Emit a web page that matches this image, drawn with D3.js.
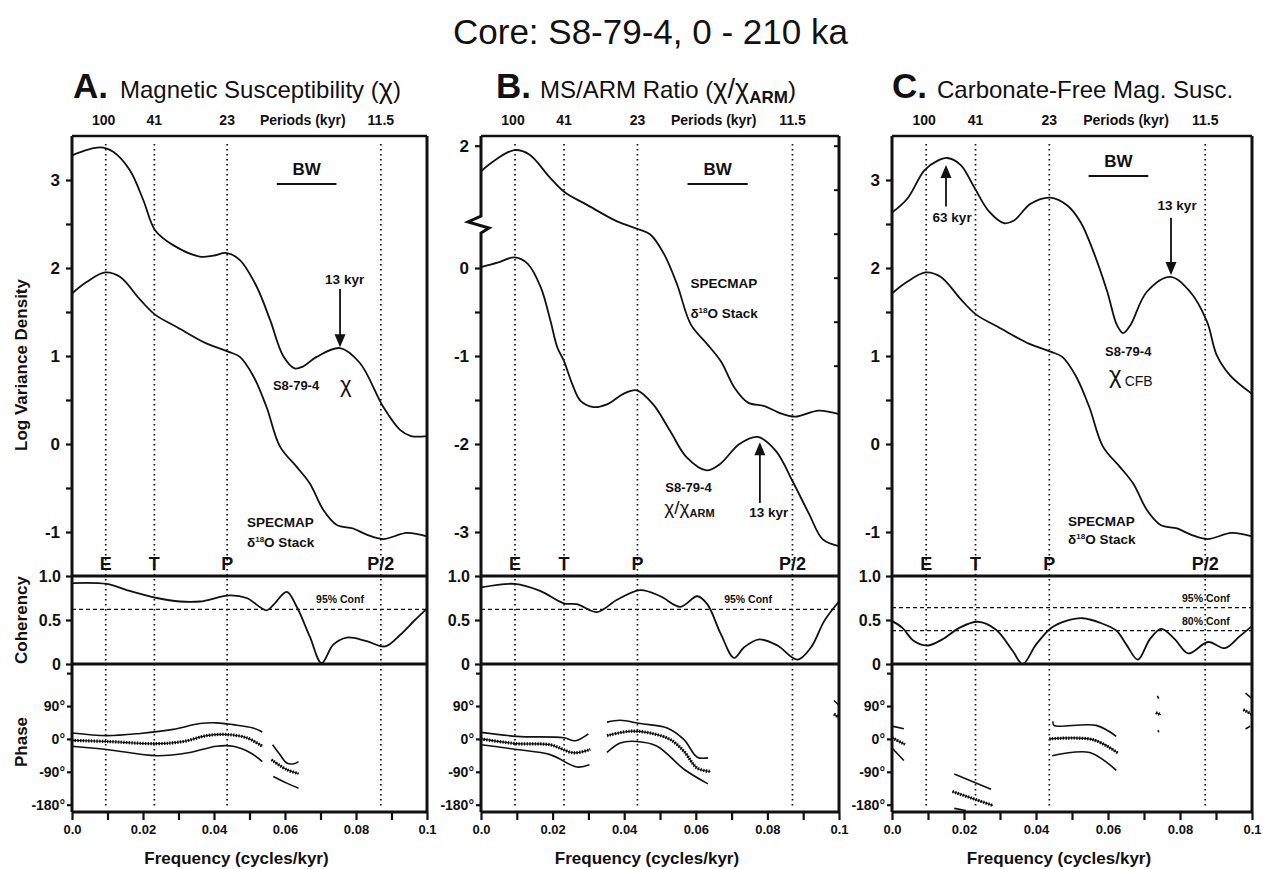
<!DOCTYPE html>
<html>
<head>
<meta charset="utf-8">
<script src="https://cdn.jsdelivr.net/npm/d3@7"></script>
<style>
body { margin: 0; background: #fff; }
text { font-family: "Liberation Sans", Arial, Helvetica, sans-serif; fill: #111; }
</style>
</head>
<body>
<svg id="chart" width="1263" height="869"></svg>
<script>
// ---------- data ----------
var freqTicks = [0, 0.01, 0.02, 0.03, 0.04, 0.05, 0.06, 0.07, 0.08, 0.09, 0.1];
var freqLabels = ["0.0", "", "0.02", "", "0.04", "", "0.06", "", "0.08", "", "0.1"];
var orbitalFreqs = [0.0095, 0.0232, 0.0437, 0.087];
var orbitalNames = ["E", "T", "P", "P/2"];
var periodLabels = ["100", "41", "23", "11.5"];

// SPECMAP d18O stack spectrum (log variance density)
var specmap = [[0,1.71],[0.0041,1.84],[0.0093,1.95],[0.0135,1.90],[0.0192,1.64],[0.0234,1.47],[0.0295,1.33],
  [0.038,1.14],[0.044,1.05],[0.0473,0.99],[0.0511,0.77],[0.0548,0.42],[0.0586,-0.03],[0.0633,-0.26],
  [0.067,-0.45],[0.0708,-0.75],[0.0746,-0.92],[0.0792,-0.96],[0.083,-1.03],[0.0877,-1.08],[0.0943,-1.01],[0.1,-1.05]];

// A: magnetic susceptibility
var specA = [[0,3.28],[0.0079,3.37],[0.0116,3.32],[0.0163,3.11],[0.0201,2.77],[0.0234,2.43],[0.0285,2.26],
  [0.036,2.13],[0.0398,2.14],[0.0436,2.17],[0.0473,2.09],[0.052,1.79],[0.0558,1.41],[0.0595,1.0],
  [0.0627,0.86],[0.065,0.88],[0.0689,0.99],[0.0755,1.09],[0.0811,0.92],[0.0877,0.42],[0.0924,0.16],
  [0.0955,0.09],[0.1,0.09]];
var cohA = [[0,0.92],[0.0098,0.91],[0.0154,0.84],[0.0239,0.75],[0.0304,0.71],[0.036,0.71],[0.0445,0.78],
  [0.0492,0.75],[0.0548,0.61],[0.0567,0.67],[0.0605,0.82],[0.0633,0.65],[0.067,0.31],[0.0703,0.01],
  [0.0736,0.22],[0.0774,0.30],[0.083,0.26],[0.0882,0.20],[0.0924,0.33],[0.0966,0.50],[0.1,0.63]];
var phaseUpperA = [[[0,16],[0.0098,9],[0.0192,15],[0.0285,26],[0.036,42],[0.0407,44],[0.0454,39],[0.051,30],[0.0536,19]],
  [[0.0565,-16],[0.0585,-42],[0.0605,-66],[0.0625,-68],[0.0638,-62]]];
var phaseMidA = [[[0,-4],[0.0098,-7],[0.0239,-13],[0.0314,-7],[0.0379,9],[0.0436,12],[0.0492,3],[0.0536,-20]],
  [[0.0562,-57],[0.0605,-84],[0.0638,-95]]];
var phaseLowerA = [[[0,-20],[0.0098,-29],[0.0239,-46],[0.0332,-37],[0.0407,-20],[0.0454,-20],[0.0501,-37],[0.0536,-62]],
  [[0.0567,-103],[0.0605,-121],[0.0638,-135]]];

// B: MS/ARM ratio
var specB = [[0,0.01],[0.0046,0.06],[0.0093,0.12],[0.013,0.05],[0.0167,-0.22],[0.0194,-0.60],[0.0213,-0.90],
  [0.0231,-1.05],[0.0255,-1.32],[0.0278,-1.51],[0.0315,-1.58],[0.0352,-1.55],[0.0398,-1.43],[0.0435,-1.39],
  [0.0481,-1.55],[0.0528,-1.85],[0.0574,-2.15],[0.063,-2.30],[0.0667,-2.23],[0.0722,-2.0],[0.0773,-1.92],
  [0.0824,-2.08],[0.087,-2.42],[0.0917,-2.80],[0.0954,-3.08],[0.1,-3.16]];
var specmapOffsetB = 0.61; // SPECMAP drawn above the axis break
var cohB = [[0,0.87],[0.0095,0.91],[0.0165,0.83],[0.0231,0.69],[0.0268,0.68],[0.0324,0.59],[0.038,0.73],
  [0.0445,0.84],[0.0501,0.77],[0.0557,0.65],[0.0604,0.77],[0.0632,0.68],[0.067,0.34],[0.0707,0.07],
  [0.0735,0.19],[0.0777,0.28],[0.0828,0.21],[0.0884,0.05],[0.0922,0.19],[0.0959,0.49],[0.1,0.71]];
var phaseUpperB = [[[0,18],[0.01,7],[0.0231,3],[0.0263,-5],[0.03,14]],
  [[0.0352,46],[0.0389,51],[0.0445,42],[0.052,30],[0.0567,-2],[0.0604,-50],[0.0634,-52]],
  [[0.0986,105],[0.1,92]]];
var phaseMidB = [[[0,0],[0.01,-13],[0.0193,-16],[0.0259,-38],[0.0305,-29]],
  [[0.0352,9],[0.0417,21],[0.0473,16],[0.0529,-2],[0.0567,-34],[0.0604,-80],[0.0641,-89]],
  [[0.0986,68],[0.1,58]]];
var phaseLowerB = [[[0,-16],[0.01,-29],[0.0193,-43],[0.0268,-77],[0.0303,-71]],
  [[0.0352,-37],[0.0389,-11],[0.0436,-7],[0.0492,-20],[0.0567,-83],[0.0634,-123]]];

// C: carbonate-free magnetic susceptibility
var specC = [[0,2.63],[0.0043,2.79],[0.009,3.11],[0.0127,3.22],[0.0154,3.25],[0.0191,3.17],[0.0228,2.92],
  [0.027,2.64],[0.0311,2.51],[0.0339,2.54],[0.0385,2.73],[0.044,2.80],[0.0487,2.71],[0.0524,2.52],
  [0.056,2.18],[0.0598,1.73],[0.0625,1.35],[0.0642,1.26],[0.0662,1.35],[0.0708,1.73],[0.0773,1.90],
  [0.0828,1.73],[0.0875,1.39],[0.0902,1.01],[0.0939,0.78],[0.1,0.57]];
var cohC = [[0,0.49],[0.0029,0.41],[0.0061,0.26],[0.0098,0.21],[0.014,0.28],[0.0187,0.41],[0.0238,0.48],
  [0.0289,0.39],[0.0335,0.15],[0.0363,0.0],[0.04,0.22],[0.0442,0.41],[0.0484,0.49],[0.053,0.52],
  [0.0577,0.47],[0.0623,0.38],[0.0651,0.22],[0.0683,0.05],[0.0716,0.28],[0.0748,0.40],[0.0786,0.28],
  [0.0823,0.12],[0.0878,0.25],[0.0925,0.18],[0.0967,0.32],[0.1,0.43]];
var phaseUpperC = [[[0,35],[0.0033,28]], [[0.0173,-96],[0.0275,-138]],
  [[0.0447,48],[0.045,37],[0.0567,37],[0.0623,7]], [[0.0737,118],[0.0741,110]], [[0.0982,125],[0.1,110]]];
var phaseMidC = [[[0,3],[0.0036,-15]], [[0.0168,-144],[0.028,-182]],
  [[0.0437,0],[0.0558,-2],[0.0628,-39]], [[0.0733,72],[0.0747,66]], [[0.0976,80],[0.1,67]]];
var phaseLowerC = [[[0,-25],[0.0033,-59]], [[0.0173,-190],[0.0205,-196]],
  [[0.0445,-46],[0.0549,-37],[0.0623,-86]], [[0.0739,24],[0.0741,18]], [[0.0982,27],[0.0995,35]]];

var confA = [0.62], confB = [0.62], confC = [0.64, 0.38];
var confLabelsA = ["95% Conf"], confLabelsB = ["95% Conf"], confLabelsC = ["95% Conf", "80% Conf"];

// ---------- layout ----------
var TOP = 136, COH_TOP = 576, COH_BOT = 664, BOT = 812;
var svg = d3.select("#chart");

svg.append("text")
  .attr("x", 453).attr("y", 44)
  .style("font-size", "35px")
  .text("Core: S8-79-4, 0 - 210 ka");

var panels = [
  { x0: 72, x1: 427, letter: "A.", spec: specA, specDomain: [-1.5, 3.5], coh: cohA, confF: 0.0755,
    up: phaseUpperA, mid: phaseMidA, low: phaseLowerA, conf: confA, confLabels: confLabelsA },
  { x0: 481, x1: 839, letter: "B.", spec: specB, specDomain: [-3.5, 1.5], coh: cohB, confF: 0.0746,
    up: phaseUpperB, mid: phaseMidB, low: phaseLowerB, conf: confB, confLabels: confLabelsB },
  { x0: 892, x1: 1252, letter: "C.", spec: specC, specDomain: [-1.5, 3.5], coh: cohC, confF: 0.0872,
    up: phaseUpperC, mid: phaseMidC, low: phaseLowerC, conf: confC, confLabels: confLabelsC }
];

panels.forEach(function (p, i) { drawPanel(p, i); });

function label(g, x, y, str, size, anchor, weight) {
  return g.append("text")
    .attr("x", x).attr("y", y)
    .attr("text-anchor", anchor || "start")
    .style("font-size", size + "px")
    .style("font-weight", weight || "bold")
    .text(str);
}

function drawPanel(p, i) {
  var g = svg.append("g");
  var x = d3.scaleLinear().domain([0, 0.1]).range([p.x0, p.x1]);
  var ySpec = d3.scaleLinear().domain(p.specDomain).range([COH_TOP, TOP]);
  var yCoh = d3.scaleLinear().domain([0, 1]).range([COH_BOT, COH_TOP]);
  var yPh = d3.scaleLinear().domain([-200, 205]).range([BOT, COH_BOT]);

  var specLine = d3.line().x(function (d) { return x(d[0]); })
    .y(function (d) { return ySpec(d[1]); }).curve(d3.curveCatmullRom.alpha(0.5));
  var cohLine = d3.line().x(function (d) { return x(d[0]); })
    .y(function (d) { return yCoh(d[1]); }).curve(d3.curveCatmullRom.alpha(0.5));
  var phLine = d3.line().x(function (d) { return x(d[0]); })
    .y(function (d) { return yPh(d[1]); }).curve(d3.curveCatmullRom.alpha(0.5));

  // panel title
  label(g, p.x0 + (i == 0 ? 1 : (i == 1 ? 15 : 0)), 98, p.letter, 35, "start", "bold");
  var t = g.append("text").attr("x", p.x0 + (i == 0 ? 48 : (i == 1 ? 59 : 45))).attr("y", 98)
    .style("font-size", "24px");
  if (i == 0) {
    t.append("tspan").text("Magnetic Susceptibility (");
    t.append("tspan").style("font-size", "27px").text("χ");
    t.append("tspan").text(")");
  } else if (i == 1) {
    t.append("tspan").text("MS/ARM Ratio (");
    t.append("tspan").style("font-size", "27px").text("χ/χ");
    t.append("tspan").attr("dy", 5).style("font-size", "17px").style("font-weight", "bold").text("ARM");
    t.append("tspan").attr("dy", -5).text(")");
  } else {
    t.append("tspan").text("Carbonate-Free Mag. Susc.");
  }

  // period labels along the top
  orbitalFreqs.forEach(function (f, k) {
    label(g, x(f) - (k == 0 ? 2 : 0), 125, periodLabels[k], 14, "middle");
  });
  label(g, x(0.065), 125, "Periods (kyr)", 14, "middle");

  // orbital frequency dotted lines + letters
  orbitalFreqs.forEach(function (f, k) {
    g.append("line")
      .attr("x1", x(f)).attr("x2", x(f))
      .attr("y1", TOP + 8).attr("y2", BOT - 6)
      .attr("stroke", "#111").attr("stroke-width", 1.7)
      .attr("stroke-dasharray", "1.6,3.4");
    label(g, x(f), 570, orbitalNames[k], 18, "middle");
  });

  // BW bar
  var bw = i == 2 ? [0.0546, 0.0712, 176] : [0.0577, 0.0745, 184];
  g.append("line").attr("x1", x(bw[0])).attr("x2", x(bw[1]))
    .attr("y1", bw[2]).attr("y2", bw[2]).attr("stroke", "#111").attr("stroke-width", 2);
  label(g, x((bw[0] + bw[1]) / 2), bw[2] - 9, "BW", 17, "middle");

  // spectra
  var specs = [p.spec, i == 1 ? specmap.map(function (d) { return [d[0], d[1] - specmapOffsetB]; }) : specmap];
  specs.forEach(function (s) {
    g.append("path").datum(s).attr("d", specLine)
      .attr("fill", "none").attr("stroke", "#111").attr("stroke-width", 1.8);
  });

  // coherency
  p.conf.forEach(function (c, k) {
    g.append("line").attr("x1", p.x0).attr("x2", p.x1)
      .attr("y1", yCoh(c)).attr("y2", yCoh(c))
      .attr("stroke", "#111").attr("stroke-width", 1.3).attr("stroke-dasharray", "4,3");
    label(g, x(p.confF), yCoh(c) - 6, p.confLabels[k], 10.5, "middle");
  });
  g.append("path").datum(p.coh).attr("d", cohLine)
    .attr("fill", "none").attr("stroke", "#111").attr("stroke-width", 1.8);

  // phase with confidence band
  p.up.concat(p.low).forEach(function (s) {
    g.append("path").datum(s).attr("d", phLine)
      .attr("fill", "none").attr("stroke", "#111").attr("stroke-width", 1.6);
  });
  p.mid.forEach(function (s) {
    g.append("path").datum(s).attr("d", phLine)
      .attr("fill", "none").attr("stroke", "#111").attr("stroke-width", 3.2)
      .attr("stroke-dasharray", "1.4,1.3");
    g.append("path").datum(s).attr("d", phLine)
      .attr("fill", "none").attr("stroke", "#111").attr("stroke-width", 1.1);
  });

  // frame
  var frame = g.append("g").attr("stroke", "#111").attr("fill", "none");
  frame.append("line").attr("x1", p.x0).attr("x2", p.x1).attr("y1", TOP).attr("y2", TOP).attr("stroke-width", 2.5);
  frame.append("line").attr("x1", p.x1).attr("x2", p.x1).attr("y1", TOP).attr("y2", BOT).attr("stroke-width", 3);
  [COH_TOP, COH_BOT, BOT].forEach(function (yy) {
    frame.append("line").attr("x1", p.x0).attr("x2", p.x1).attr("y1", yy).attr("y2", yy).attr("stroke-width", 3);
  });
  if (i == 1) {
    frame.append("path").attr("stroke-width", 3)
      .attr("d", "M" + p.x0 + "," + TOP + "V216L" + (p.x0 - 13) + ",222L" + (p.x0 + 8) + ",228L" + p.x0 + ",233V" + BOT);
  } else {
    frame.append("line").attr("x1", p.x0).attr("x2", p.x0).attr("y1", TOP).attr("y2", BOT).attr("stroke-width", 3);
  }

  // left axes
  var specTicks, specLabels;
  if (i == 1) {
    specTicks = [2 - specmapOffsetB, 0, -0.5, -1, -1.5, -2, -2.5, -3];
    specLabels = ["2", "0", "", "-1", "", "-2", "", "-3"];
  } else {
    specTicks = [3, 2.5, 2, 1.5, 1, 0.5, 0, -0.5, -1];
    specLabels = ["3", "", "2", "", "1", "", "0", "", "-1"];
  }
  var axSpec = g.append("g").attr("transform", "translate(" + p.x0 + ",0)")
    .call(d3.axisLeft(ySpec).tickValues(specTicks).tickSize(6).tickPadding(6)
      .tickFormat(function (d, k) { return specLabels[k]; }));
  var axCoh = g.append("g").attr("transform", "translate(" + p.x0 + ",0)")
    .call(d3.axisLeft(yCoh).tickValues([0, 0.5, 1]).tickSize(6).tickPadding(5)
      .tickFormat(function (d) { return d == 0 ? "0" : d3.format(".1f")(d); }));
  var axPh = g.append("g").attr("transform", "translate(" + p.x0 + ",0)")
    .call(d3.axisLeft(yPh).tickValues([180, 90, 0, -90, -180]).tickSize(5).tickPadding(2)
      .tickFormat(function (d) { return d == 180 ? "" : d + "°"; }));
  var axX = g.append("g").attr("transform", "translate(0," + BOT + ")")
    .call(d3.axisBottom(x).tickValues(freqTicks).tickSize(8).tickPadding(5)
      .tickFormat(function (d, k) { return freqLabels[k]; }));
  [axSpec, axCoh, axPh, axX].forEach(function (a) {
    a.select(".domain").remove();
    a.selectAll("line").attr("stroke", "#111").attr("stroke-width", 2.2);
    a.selectAll("text").style("font-family", "'Liberation Sans', Arial, sans-serif").style("font-weight", "bold").attr("fill", "#111");
  });
  axSpec.selectAll("text").style("font-size", "17px");
  axCoh.selectAll("text").style("font-size", "16px");
  axPh.selectAll("text").style("font-size", "14px");
  axX.selectAll("text").style("font-size", "13px");

  if (i == 1) {
    // right-hand ticks for the SPECMAP scale
    var rt = [2, 1.5, 1, 0.5, 0, -0.5].map(function (v) { return v - specmapOffsetB; });
    g.append("g").attr("transform", "translate(" + p.x1 + ",0)")
      .call(d3.axisLeft(ySpec).tickValues(rt).tickSize(5).tickFormat(""))
      .call(function (a) { a.select(".domain").remove(); a.selectAll("line").attr("stroke", "#111").attr("stroke-width", 2); });
  }

  label(g, (p.x0 + p.x1) / 2 - 13, 864, "Frequency (cycles/kyr)", 17, "middle");

  // annotations
  function arrow(f, v0, v1) {
    var ax = x(f), y0 = ySpec(v0), y1 = ySpec(v1), dir = y1 > y0 ? 1 : -1;
    g.append("line").attr("x1", ax).attr("x2", ax).attr("y1", y0).attr("y2", y1 - dir * 9)
      .attr("stroke", "#111").attr("stroke-width", 1.8);
    g.append("path").attr("fill", "#111")
      .attr("d", "M" + ax + "," + y1 + "L" + (ax - 5.5) + "," + (y1 - dir * 13) + "L" + (ax + 5.5) + "," + (y1 - dir * 13) + "Z");
  }
  function specmapLabel(f, v1, v2) {
    label(g, x(f), ySpec(v1), "SPECMAP", 13.5, "start");
    var tt = label(g, x(f), ySpec(v2), "", 13.5, "start");
    tt.append("tspan").text("δ");
    tt.append("tspan").attr("dy", -5).style("font-size", "8px").text("18");
    tt.append("tspan").attr("dy", 5).text("O Stack");
  }
  if (i == 0) {
    arrow(0.0755, 1.76, 1.10);
    label(g, x(0.0768), ySpec(1.82), "13 kyr", 13.5, "middle");
    label(g, x(0.0566), ySpec(0.61), "S8-79-4", 13, "start");
    label(g, x(0.0755), ySpec(0.59), "χ", 22, "start", "normal");
    specmapLabel(0.0493, -0.94, -1.17);
  } else if (i == 1) {
    arrow(0.0779, -2.67, -1.98);
    label(g, x(0.0804), ySpec(-2.83), "13 kyr", 13.5, "middle");
    label(g, x(0.0515), ySpec(-2.54), "S8-79-4", 13, "start");
    var cx = label(g, x(0.0512), ySpec(-2.79), "", 19, "start", "normal");
    cx.append("tspan").text("χ/χ");
    cx.append("tspan").attr("dy", 3).style("font-size", "11px").style("font-weight", "bold").text("ARM");
    specmapLabel(0.0585, -0.23, -0.57);
  } else {
    arrow(0.015, 2.70, 3.17);
    label(g, x(0.0167), ySpec(2.52), "63 kyr", 13.5, "middle");
    arrow(0.0775, 2.57, 1.92);
    label(g, x(0.0792), ySpec(2.66), "13 kyr", 13.5, "middle");
    label(g, x(0.0592), ySpec(1.0), "S8-79-4", 13, "start");
    var cc = label(g, x(0.0603), ySpec(0.69), "", 24, "start", "normal");
    cc.append("tspan").text("χ");
    cc.append("tspan").attr("dx", 3).attr("dy", 3).style("font-size", "14px").text("CFB");
    specmapLabel(0.0489, -0.93, -1.14);
  }

  if (i == 0) {
    g.append("text").attr("transform", "translate(27,365) rotate(-90)")
      .attr("text-anchor", "middle").style("font-size", "17px").style("font-weight", "bold")
      .text("Log Variance Density");
    g.append("text").attr("transform", "translate(27,620) rotate(-90)")
      .attr("text-anchor", "middle").style("font-size", "17px").style("font-weight", "bold")
      .text("Coherency");
    g.append("text").attr("transform", "translate(27,742) rotate(-90)")
      .attr("text-anchor", "middle").style("font-size", "17px").style("font-weight", "bold")
      .text("Phase");
  }
}
</script>
</body>
</html>
